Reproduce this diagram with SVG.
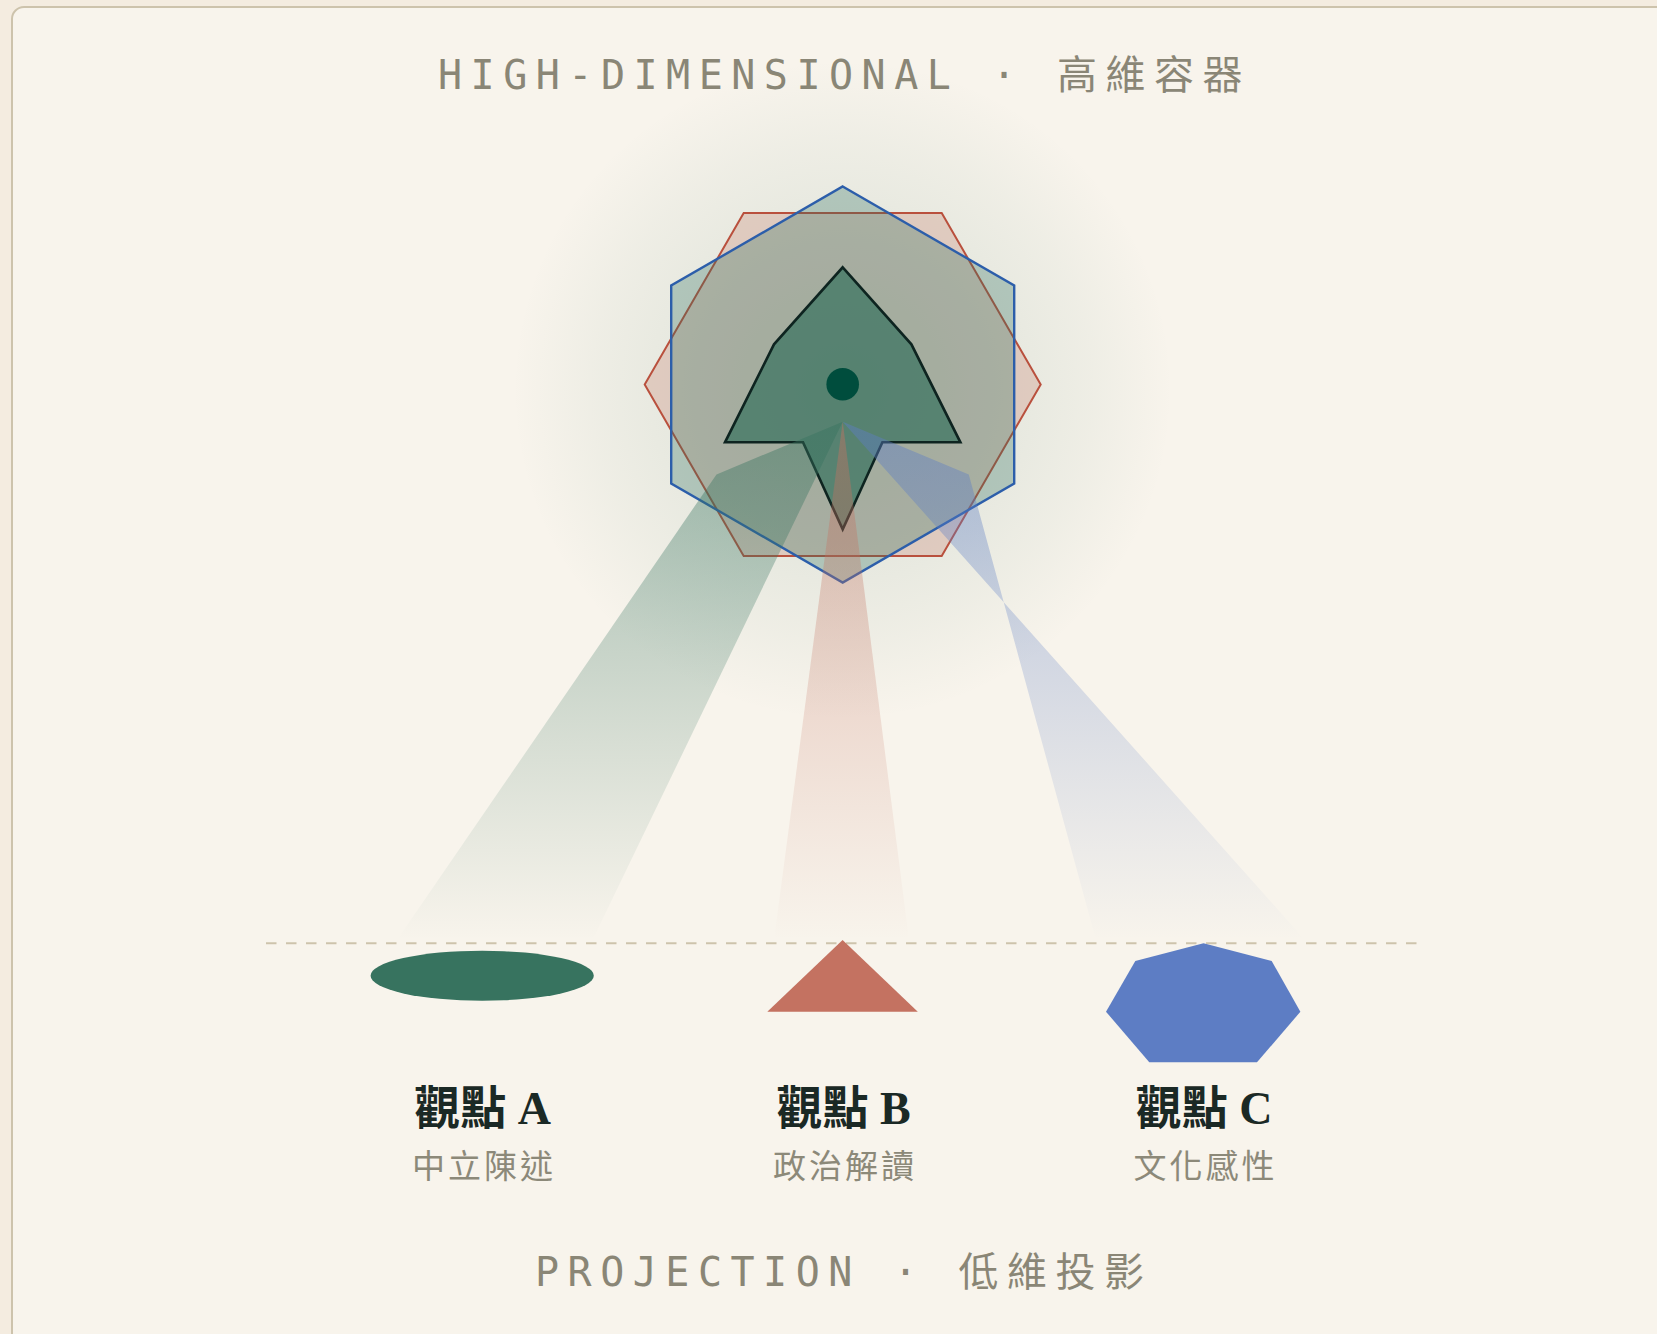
<svg xmlns="http://www.w3.org/2000/svg" width="1657" height="1334" viewBox="0 0 1657 1334">
  <style>
    .title { font-family: "DejaVu Sans Mono", "Noto Sans CJK TC", monospace; font-size: 40px; letter-spacing: 8.5px; fill: #8a8676; }
    .label { font-family: "Liberation Serif", "Noto Sans CJK TC", serif; font-size: 46px; font-weight: 700; fill: #1b2925; text-anchor: middle; }
    .sub { font-family: "Noto Sans CJK TC", "Liberation Sans", sans-serif; font-size: 33px; letter-spacing: 3px; fill: #8c8979; text-anchor: middle; }
    .beam { stroke: none; }
  </style>
  <defs>
    <radialGradient id="glow" cx="842.7" cy="390" r="330" gradientUnits="userSpaceOnUse">
      <stop offset="0" stop-color="#37735f" stop-opacity="0.16"/>
      <stop offset="0.45" stop-color="#37735f" stop-opacity="0.1"/>
      <stop offset="0.75" stop-color="#37735f" stop-opacity="0.05"/>
      <stop offset="1" stop-color="#37735f" stop-opacity="0"/>
    </radialGradient>
    <linearGradient id="gGreen" x1="0" y1="0" x2="0" y2="1">
      <stop offset="0" stop-color="#37735f" stop-opacity="0.45"/>
      <stop offset="1" stop-color="#37735f" stop-opacity="0"/>
    </linearGradient>
    <linearGradient id="gRed" x1="0" y1="0" x2="0" y2="1">
      <stop offset="0" stop-color="#c47261" stop-opacity="0.45"/>
      <stop offset="1" stop-color="#c47261" stop-opacity="0"/>
    </linearGradient>
    <linearGradient id="gBlue" x1="0" y1="0" x2="0" y2="1">
      <stop offset="0" stop-color="#5d7dc4" stop-opacity="0.45"/>
      <stop offset="1" stop-color="#5d7dc4" stop-opacity="0"/>
    </linearGradient>
  </defs>

  <rect x="0" y="0" width="1657" height="1334" fill="#f4ece0"/>
  <g id="frame">
    <rect x="12" y="7" width="1700" height="1380" rx="12" ry="12" fill="#f8f4ec" stroke="#cdc3ac" stroke-width="2"/>
  </g>

  <g id="title-top">
    <text class="title" x="438" y="89">HIGH-DIMENSIONAL · 高維容器</text>
  </g>

  <g id="container">
    <circle cx="842.7" cy="390" r="330" fill="url(#glow)"/>
    <polygon points="644.7,384.5 743.7,213 941.7,213 1040.7,384.5 941.7,556 743.7,556" fill="#c47261" fill-opacity="0.26" stroke="#b9503d" stroke-width="2"/>
    <polygon points="842.7,186.5 1014.2,285.5 1014.2,483.5 842.7,582.5 671.2,483.5 671.2,285.5" fill="#2f6f60" fill-opacity="0.3" stroke="#2c5eaa" stroke-width="2.4"/>
    <polygon points="842.7,267.3 911.4,344.3 960.4,442.3 882.4,442.3 842.7,529.3 803,442.3 725,442.3 774,344.3" fill="#326f5c" fill-opacity="0.68" stroke="#0e2420" stroke-width="2.6" stroke-linejoin="miter"/>
    <circle cx="842.7" cy="384.3" r="16.3" fill="#004d3d"/>
  </g>

  <g id="connectors">
    <polygon class="beam" points="842.7,421.7 716.5,474.4 397,940 592.5,940" fill="url(#gGreen)"/>
    <polygon class="beam" points="842.7,421.7 774,940 909,940" fill="url(#gRed)"/>
    <polygon class="beam" points="842.7,421.7 968.8,474.4 1096,940 1305,940" fill="url(#gBlue)"/>
  </g>

  <g id="baseline">
    <line x1="266" y1="943.3" x2="1420" y2="943.3" stroke="#cdc3ac" stroke-width="2" stroke-dasharray="10.5 9.5"/>
  </g>

  <g id="view-a">
    <ellipse cx="482.2" cy="975.7" rx="111.6" ry="25" fill="#37735f"/>
    <text class="label" x="482.5" y="1124">觀點 A</text>
    <text class="sub" x="484" y="1178">中立陳述</text>
  </g>

  <g id="view-b">
    <polygon points="842.6,940 917.8,1011.7 767.3,1011.7" fill="#c47261"/>
    <text class="label" x="843.5" y="1124">觀點 B</text>
    <text class="sub" x="845" y="1178">政治解讀</text>
  </g>

  <g id="view-c">
    <polygon points="1203.5,943.3 1271.7,961 1300.4,1011.7 1257,1062.3 1149.3,1062.3 1106,1011.7 1135.3,961" fill="#5d7dc4"/>
    <text class="label" x="1204" y="1124">觀點 C</text>
    <text class="sub" x="1205.5" y="1178">文化感性</text>
  </g>

  <g id="title-bottom">
    <text class="title" x="535" y="1286">PROJECTION · 低維投影</text>
  </g>
</svg>
